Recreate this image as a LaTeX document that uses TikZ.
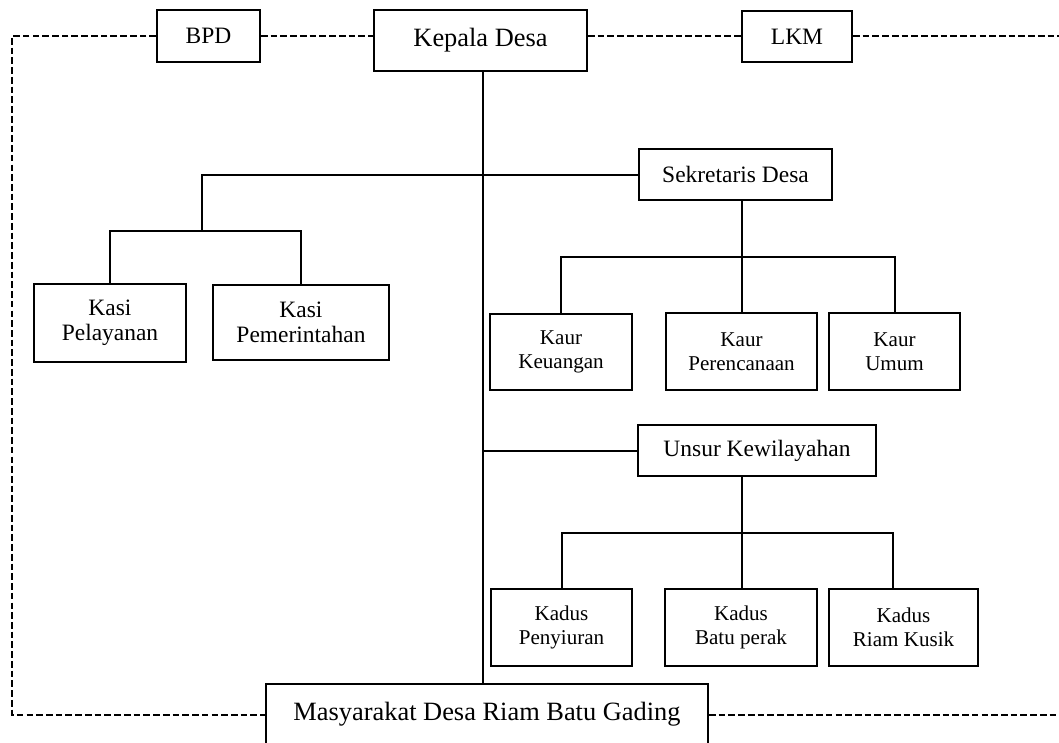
\documentclass[tikz,border=0pt]{standalone}
\usepackage{fontspec}
\setmainfont{Liberation Serif}
\begin{document}
\begin{tikzpicture}[x=0.75pt,y=-0.75pt,
  box/.style={draw, line width=1.5pt, inner sep=0pt, align=center, font=\fontsize{17.6}{18.8}\selectfont},
  smallbox/.style={box, font=\fontsize{15.8}{18.3}\selectfont},
  bigbox/.style={box, font=\fontsize{19.8}{24}\selectfont},
  link/.style={line width=1.5pt},
  dashlink/.style={line width=1.5pt, dash pattern=on 5pt off 2.3pt}]
\useasboundingbox (0,0) rectangle (1059,742);

% nodes
\node[bigbox, minimum width=213*0.75pt, minimum height=61*0.75pt] (kd) at (480.5,40.5) {Kepala Desa};
\node[box, minimum width=103*0.75pt, minimum height=52*0.75pt] (bpd) at (208.5,36) {BPD};
\node[box, minimum width=110*0.75pt, minimum height=51*0.75pt] (lkm) at (797,36.5) {LKM};
\node[box, minimum width=193*0.75pt, minimum height=51*0.75pt] (sk) at (735.5,174.5) {Sekretaris Desa};
\node[box, minimum width=152*0.75pt, minimum height=78*0.75pt] (ksp) at (110,323) {Kasi\\Pelayanan};
\node[box, minimum width=176*0.75pt, minimum height=75*0.75pt] (ksm) at (301,322.5) {Kasi\\Pemerintahan};
\node[smallbox, minimum width=142*0.75pt, minimum height=76*0.75pt] (kk) at (561,352) {Kaur\\Keuangan};
\node[smallbox, minimum width=151*0.75pt, minimum height=77*0.75pt] (kp) at (741.5,351.5) {Kaur\\Perencanaan};
\node[smallbox, minimum width=131*0.75pt, minimum height=77*0.75pt] (ku) at (894.5,351.5) {Kaur\\Umum};
\node[box, minimum width=238*0.75pt, minimum height=51*0.75pt] (us) at (757,450.5) {Unsur Kewilayahan};
\node[smallbox, minimum width=141*0.75pt, minimum height=77*0.75pt] (kdp) at (561.5,627.5) {Kadus\\Penyiuran};
\node[smallbox, minimum width=152*0.75pt, minimum height=77*0.75pt] (kbp) at (741,627.5) {Kadus\\Batu perak};
\node[smallbox, minimum width=149*0.75pt, minimum height=77*0.75pt] (krk) at (903.5,627.5) {Kadus\\Riam Kusik};
\node[bigbox, minimum width=442*0.75pt, minimum height=61*0.75pt] (ms) at (487,714.5) {Masyarakat Desa Riam Batu Gading};

% helper coordinates
\coordinate (mx) at (483,0);
\coordinate (kj) at (202,174.5);
\coordinate (kb) at (202,231);
\coordinate (sb) at (742,257);
\coordinate (ub) at (742,533);
\coordinate (rk) at (893,0);
\coordinate (tl) at (12,0);
\coordinate (tr) at (1059,33);

% solid connectors
\draw[link] (kd.south -| mx) -- (ms.north -| mx);
\draw[link] (sk.west) -- (kj) -- (kb);
\draw[link] (ksp.north) |- (kb) -| (ksm.north);
\draw[link] (sk.south -| sb) -- (kp.north -| sb);
\draw[link] (kk.north) |- (sb) -| (ku.north);
\draw[link] (mx |- us.west) -- (us.west);
\draw[link] (us.south -| ub) -- (kbp.north -| ub);
\draw[link] (kdp.north) |- (ub) -- (ub -| rk) -- (krk.north -| rk);

% dashed connectors
\draw[dashlink] (bpd.west) -- (bpd.west -| tl) -- (ms.west -| tl) -- (ms.west);
\draw[dashlink] (bpd.east) -- (kd.west |- bpd.east);
\draw[dashlink] (kd.east |- lkm.west) -- (lkm.west);
\draw[dashlink] (lkm.east) -- (lkm.east -| tr);
\draw[dashlink] (ms.east) -- (ms.east -| tr);
\end{tikzpicture}
\end{document}
